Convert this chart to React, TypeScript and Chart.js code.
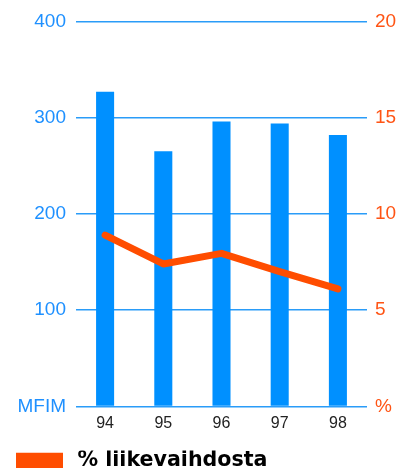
import React, { useEffect, useRef } from "react";
import { Chart, registerables } from "chart.js";

Chart.register(...registerables);

const years = ["94", "95", "96", "97", "98"];
const revenueMFIM = [327, 265, 296, 294, 282];
const percentOfSales = [8.9, 7.4, 7.95, 7.0, 6.1];
const leftTicks = [0, 100, 200, 300, 400];
const rightTicks = [0, 5, 10, 15, 20];
const leftZeroLabel = "MFIM";
const rightZeroLabel = "%";
const legendLabel = "% liikevaihdosta";

const BLUE = "#0090ff";
const BLUE_TEXT = "#1e90ff";
const GRID = "#2a9cf8";
const ORANGE = "#ff4d00";
const ORANGE_TEXT = "#ff5414";
const FONT = "'Liberation Sans', Arial, sans-serif";
const LEGEND_FONT = "'DejaVu Sans', sans-serif";

export default function App() {
  const ref = useRef<HTMLCanvasElement | null>(null);

  useEffect(() => {
    if (!ref.current) return;
    const chart = new Chart(ref.current, {
      type: "bar",
      data: {
        labels: years,
        datasets: [
          {
            type: "line",
            label: legendLabel,
            data: percentOfSales,
            yAxisID: "y2",
            borderColor: ORANGE,
            backgroundColor: ORANGE,
            borderWidth: 7,
            pointRadius: 0,
            borderCapStyle: "round",
            borderJoinStyle: "round",
            tension: 0,
            order: 0,
          } as any,
          {
            type: "bar",
            label: "MFIM",
            data: revenueMFIM,
            yAxisID: "y",
            backgroundColor: BLUE,
            borderWidth: 0,
            barPercentage: 0.31,
            categoryPercentage: 1,
            order: 1,
          } as any,
        ],
      },
      options: {
        animation: false,
        responsive: true,
        maintainAspectRatio: false,
        layout: { padding: { left: 16, right: 0, top: 19.5, bottom: 0 } },
        plugins: {
          tooltip: { enabled: false },
          legend: {
            position: "bottom",
            align: "start",
            labels: {
              filter: (item: any) => item.text.trim() === legendLabel,
              generateLabels: (chart: any) => {
                const items = Chart.defaults.plugins.legend.labels.generateLabels(chart);
                return items.map((it: any) => ({ ...it, text: "\u2009" + it.text, lineWidth: 0 }));
              },
              boxWidth: 47,
              boxHeight: 16,
              padding: 0,
              color: "#000",
              font: { family: LEGEND_FONT, size: 20.6, weight: "bold" },
            },
          },
        },
        scales: {
          x: {
            grid: { display: false, drawTicks: false },
            border: { display: false },
            ticks: {
              color: "#222",
              font: { family: FONT, size: 16 },
              padding: 8,
            },
            afterFit: (s: any) => {
              s.height = 44;
            },
          },
          y: {
            position: "left",
            min: leftTicks[0],
            max: leftTicks[leftTicks.length - 1],
            afterBuildTicks: (s: any) => {
              s.ticks = leftTicks.map((v) => ({ value: v }));
            },
            grid: { color: GRID, lineWidth: 1.5, drawTicks: false },
            border: { display: false },
            ticks: {
              color: BLUE_TEXT,
              font: { family: FONT, size: 19 },
              padding: 10,
              callback: (v: any) => (Number(v) === 0 ? leftZeroLabel : String(v)),
            },
            afterFit: (s: any) => {
              s.width = 60;
            },
          },
          y2: {
            position: "right",
            min: rightTicks[0],
            max: rightTicks[rightTicks.length - 1],
            afterBuildTicks: (s: any) => {
              s.ticks = rightTicks.map((v) => ({ value: v }));
            },
            grid: { display: false, drawTicks: false },
            border: { display: false },
            ticks: {
              color: ORANGE_TEXT,
              font: { family: FONT, size: 19 },
              padding: 8,
              callback: (v: any) => (Number(v) === 0 ? rightZeroLabel : String(v)),
            },
            afterFit: (s: any) => {
              s.width = 41;
            },
          },
        },
      },
    });
    return () => chart.destroy();
  }, []);

  return (
    <div style={{ position: "absolute", left: 0, top: 0, width: 408, height: 481 }}>
      <canvas ref={ref} />
    </div>
  );
}
